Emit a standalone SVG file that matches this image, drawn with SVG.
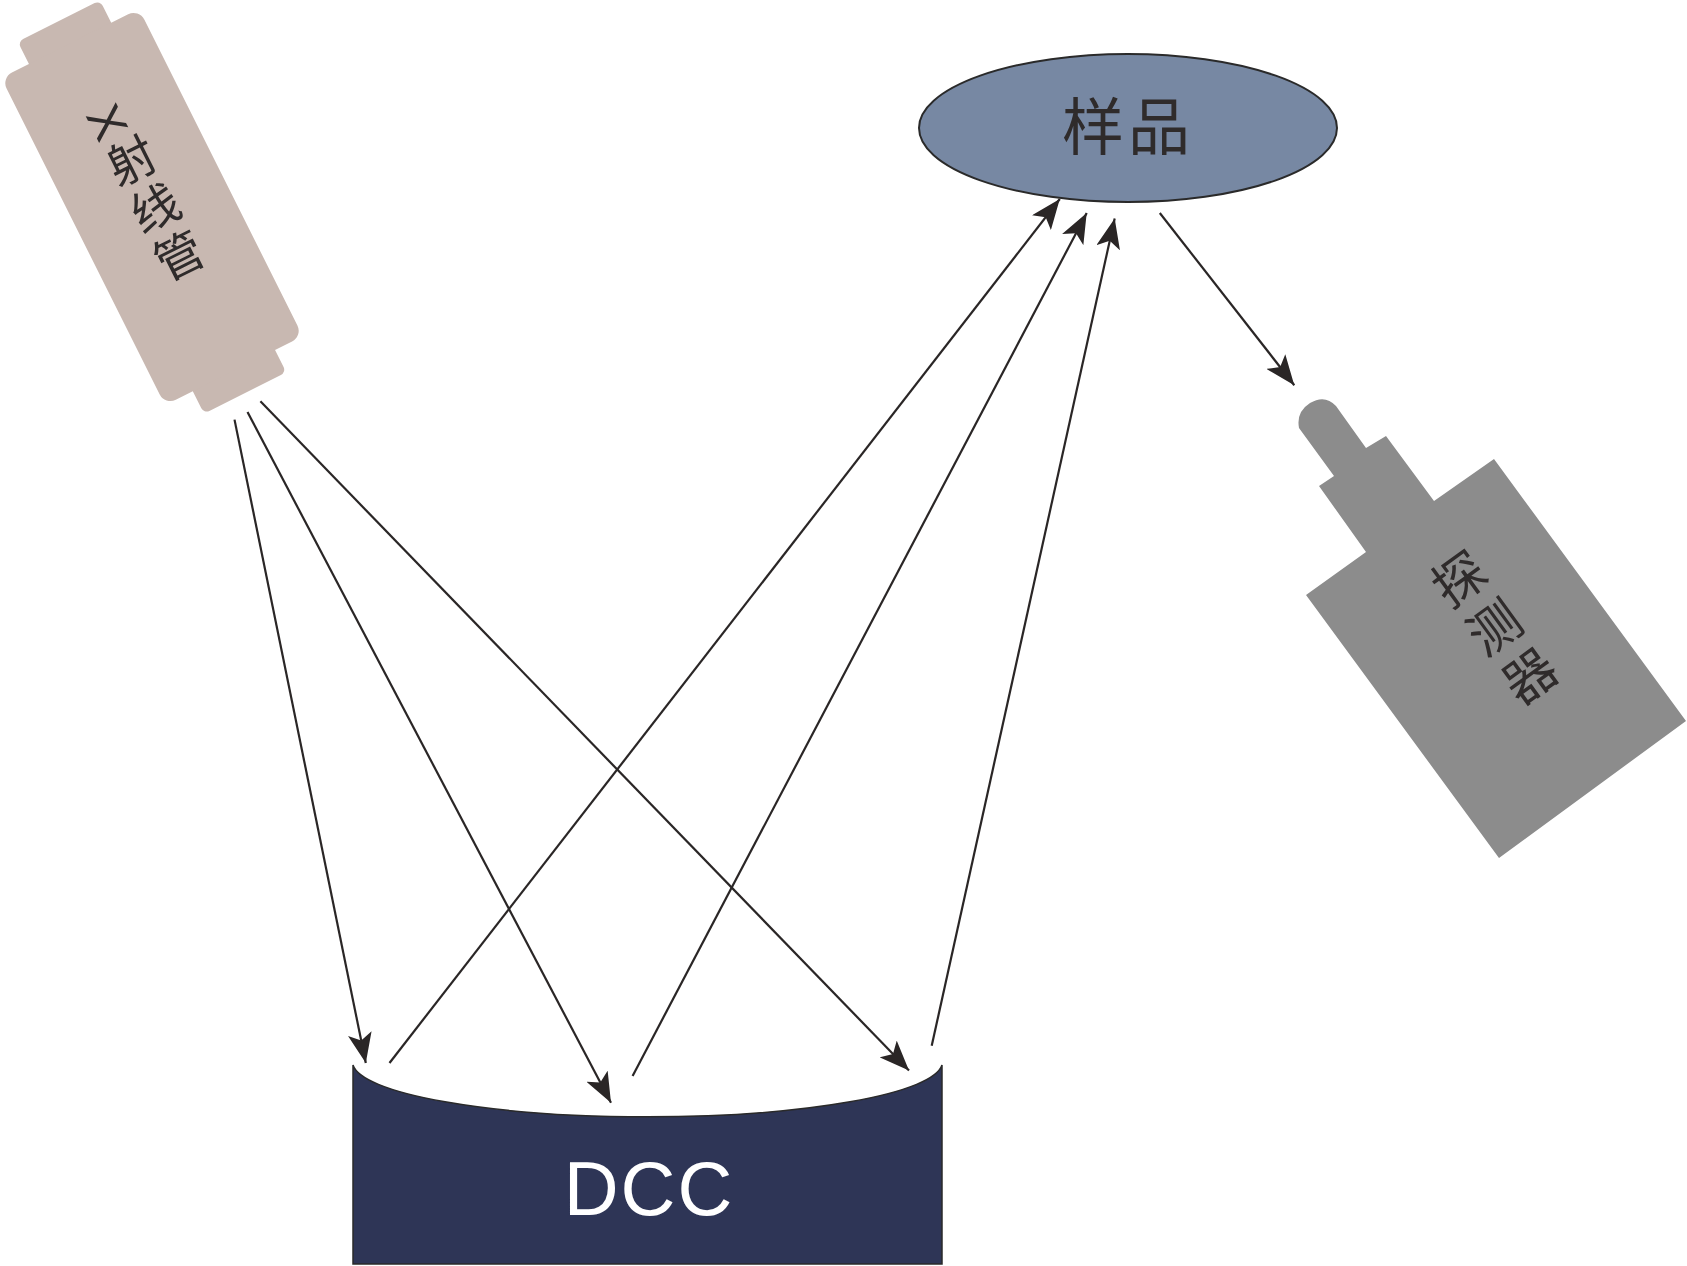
<svg xmlns="http://www.w3.org/2000/svg" width="1687" height="1266" viewBox="0 0 1687 1266">
<style>
.lbl{font-family:"Liberation Sans","Noto Sans CJK SC",sans-serif;fill:#2f2b2b}
.conn line{stroke:#2a2626;stroke-width:2.2;fill:none;marker-end:url(#ah)}
</style>
<defs>
<marker id="ah" markerUnits="userSpaceOnUse" markerWidth="32" markerHeight="24" refX="30" refY="12" orient="auto">
<path d="M0,0 L30,12 L0,24 L7,12 Z" fill="#2a2626"/>
</marker>
</defs>
<rect width="1687" height="1266" fill="#fff"/>
<g id="xray" transform="translate(152,207) rotate(-26.6)">
<rect x="-46" y="-208" width="92" height="40" rx="6" fill="#c8b8b1"/>
<rect x="-46" y="168" width="92" height="40" rx="6" fill="#c8b8b1"/>
<rect x="-77" y="-183" width="154" height="366" rx="12" fill="#c8b8b1"/>
<text class="lbl" x="-2" y="-112" font-size="48" writing-mode="tb" letter-spacing="5">X射线管</text>
</g>
<g id="sample">
<ellipse cx="1128" cy="128" rx="209" ry="74" fill="#7788a3" stroke="#2a2a2a" stroke-width="2"/>
<text class="lbl" x="1128" y="150" font-size="62" text-anchor="middle" letter-spacing="4">样品</text>
</g>
<g id="detector">
<path d="M1306,595 L1366,552 L1319,486 L1334,476 L1299,428 Q1296,412 1310,403 Q1325,394 1336,406 L1366,448 L1386,436 L1434,501 L1494,459 L1686,721 L1499,858 Z" fill="#8c8c8c"/>
<text class="lbl" transform="translate(1440,560) rotate(-36)" font-size="52" writing-mode="tb" letter-spacing="8">探测器</text>
</g>
<g id="dcc">
<path d="M353,1065 A295,55 0 0 0 942,1065 L942,1264 L353,1264 Z" fill="#2e3556" stroke="#2a2a2a" stroke-width="1.5"/>
<text x="649" y="1215" font-family="Liberation Sans, sans-serif" font-weight="300" font-size="76" fill="#fff" text-anchor="middle" letter-spacing="2">DCC</text>
</g>
<g id="connectors" class="conn">
<line x1="234.5" y1="419.6" x2="365.8" y2="1063"/>
<line x1="247.5" y1="412" x2="611" y2="1102.8"/>
<line x1="260.4" y1="401.3" x2="909" y2="1070.5"/>
<line x1="389.5" y1="1063" x2="1059.8" y2="199"/>
<line x1="632.6" y1="1075.9" x2="1086.7" y2="213"/>
<line x1="931.7" y1="1045.8" x2="1114.7" y2="218.4"/>
<line x1="1159.8" y1="213" x2="1294.3" y2="385.2"/>
</g>
</svg>
